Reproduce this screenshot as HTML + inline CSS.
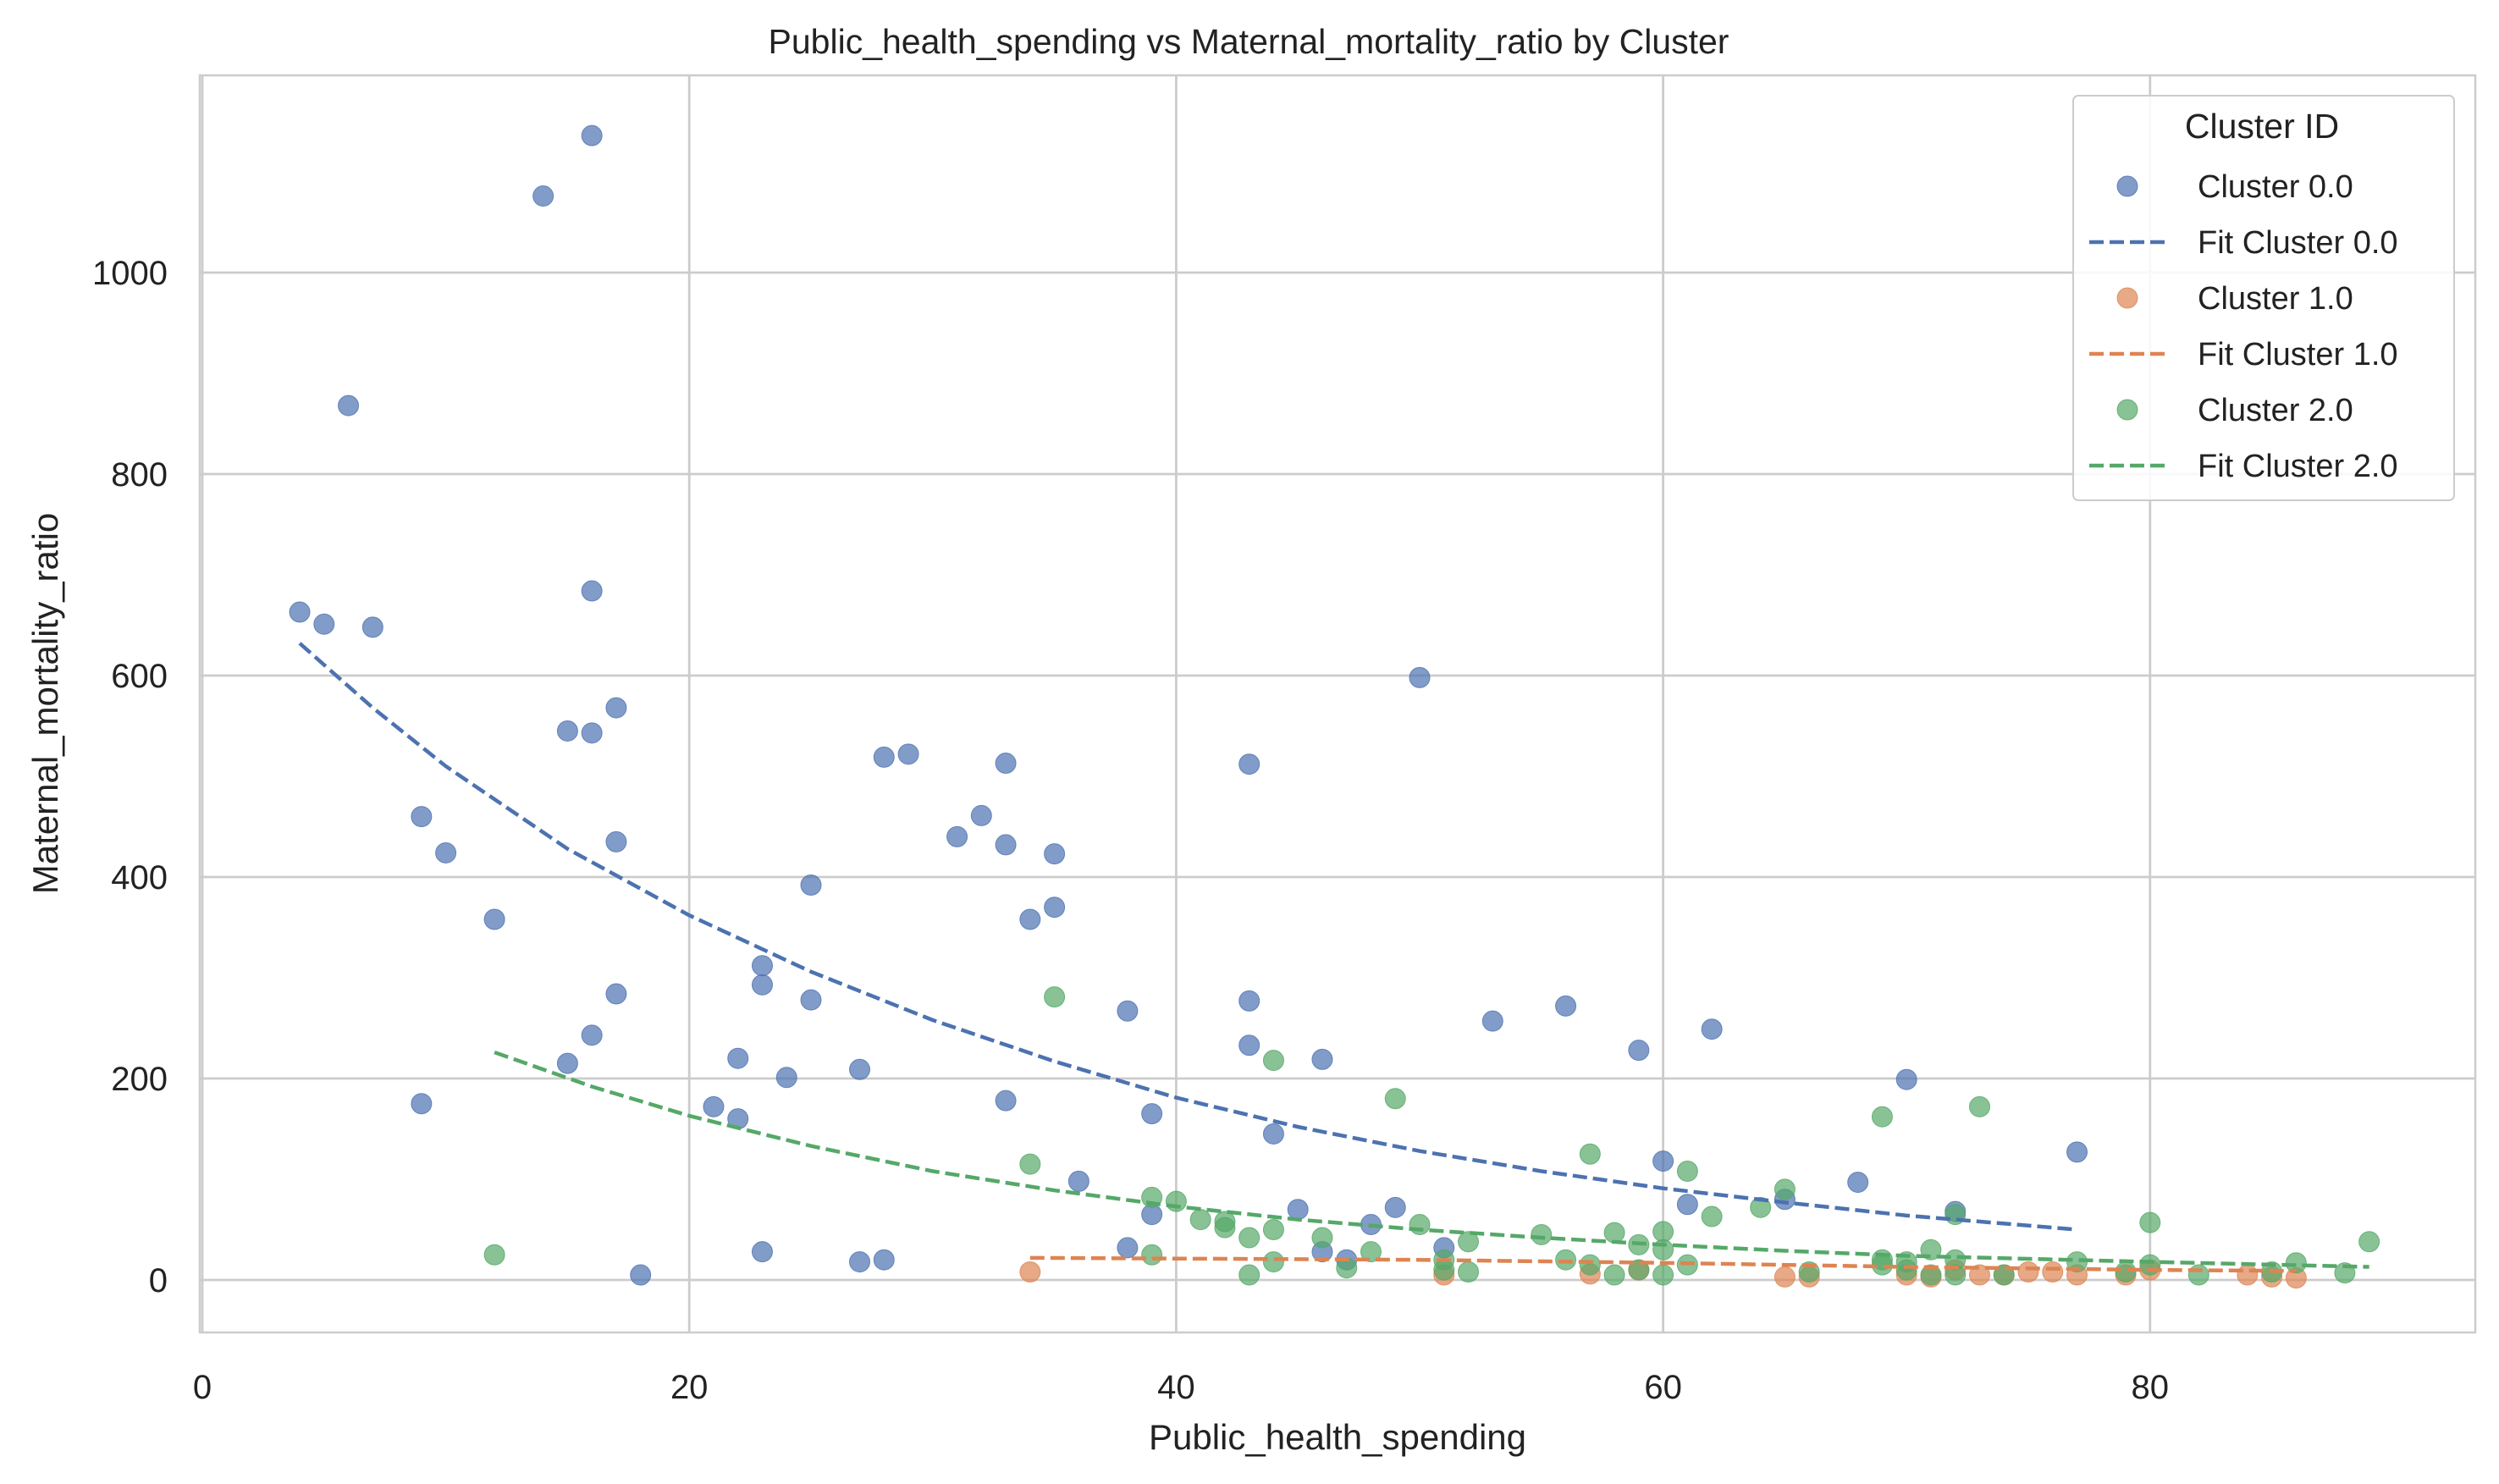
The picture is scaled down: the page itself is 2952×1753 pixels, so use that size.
<!DOCTYPE html>
<html><head><meta charset="utf-8"><style>
html,body{margin:0;padding:0;background:#fff;}
svg{display:block;font-family:"Liberation Sans","DejaVu Sans",sans-serif;}
</style></head><body>
<svg id="chart" width="2952" height="1753" viewBox="0 0 2952 1753">
<rect x="0" y="0" width="2952" height="1753" fill="#fff"/>
<g id="grid"></g>
<g id="marks"></g>
<rect x="236" y="89" width="2688" height="1485" fill="none" stroke="#cccccc" stroke-width="2.5"/>
<g id="ticks"></g>
<text x="1475" y="63" font-size="41" text-anchor="middle" fill="#222">Public_health_spending vs Maternal_mortality_ratio by Cluster</text>
<text x="1580" y="1712" font-size="42" text-anchor="middle" fill="#222">Public_health_spending</text>
<text x="68" y="831" font-size="42" text-anchor="middle" fill="#222" transform="rotate(-90 68 831)">Maternal_mortality_ratio</text>
<g id="legend">
<rect x="2449" y="113" width="450" height="478" rx="6" fill="#fff" fill-opacity="0.85" stroke="#cccccc" stroke-width="2"/>
<text x="2672" y="163" font-size="41" text-anchor="middle" fill="#222">Cluster ID</text>
</g>
</svg>
<script>
const xTicks=[0,20,40,60,80];
const yTicks=[0,200,400,600,800,1000];
const c0x=[4,5,6,7,9,9,10,12,14,15,15,16,16,16,16,17,17,17,18,21,22,22,23,23,23,24,25,25,27,27,28,28,29,31,32,33,33,33,34,35,35,36,38,38,39,39,43,43,43,44,45,46,46,47,48,49,50,51,53,56,59,60,61,62,65,68,70,72,77];
const c0y=[663,651,868,648,460,175,424,358,1076,545,215,1136,684,543,243,568,435,284,5,172,220,160,312,293,28,201,392,278,209,18,519,20,522,440,461,513,432,178,358,423,370,98,267,32,165,65,512,277,233,145,70,219,28,20,55,72,598,32,257,272,228,118,75,249,80,97,199,68,127];
const c1x=[34,51,57,59,65,66,70,71,72,73,74,75,76,77,79,80,84,85,86];
const c1y=[8,5,6,10,3,3,5,3,10,5,5,8,8,5,5,10,5,3,2];
const c2x=[12,35,34,39,39,40,41,42,42,43,43,44,44,44,46,47,48,49,50,51,51,52,52,55,56,57,57,58,58,59,59,60,60,60,61,61,62,64,65,66,69,69,69,70,70,71,71,72,72,72,73,74,77,79,80,80,82,85,86,88,89];
const c2y=[25,281,115,82,25,78,60,58,52,42,5,218,50,18,42,12,28,180,55,20,10,38,8,45,20,125,15,47,5,35,10,48,30,5,108,15,63,72,90,8,162,20,15,10,18,30,5,65,20,5,172,5,18,8,57,15,5,8,17,7,38];
const fit0x=[4,7,10,15,20,25,30,35,40,45,50,55,60,65,70,77];
const fit0y=[632,568,510,428,362,306,258,217,181,152,128,108,91,77,64,50];
const fit1x=[34,50,60,70,80,86];
const fit1y=[22,20,17,13,10,9];
const fit2x=[12,16,20,25,30,35,40,45,50,55,60,65,70,75,80,89];
const fit2y=[226,192,163,133,108,89,73,60,50,42,35,29,24,21,18,13];

const NS="http://www.w3.org/2000/svg";
const X=v=>239+v*28.76;
const Y=v=>1512-v*1.19;
function mk(tag,attrs,parent){const e=document.createElementNS(NS,tag);for(const k in attrs)e.setAttribute(k,attrs[k]);parent.appendChild(e);return e;}
const grid=document.getElementById('grid'),ticks=document.getElementById('ticks'),marks=document.getElementById('marks'),legend=document.getElementById('legend');
xTicks.forEach(t=>{
 const l=mk('line',{x1:X(t),x2:X(t),y1:89,y2:1574,stroke:'#cccccc','stroke-width':2.8},grid);
 
 
 const tx=mk('text',{x:X(t),y:1652,'font-size':40,'text-anchor':'middle',fill:'#222'},ticks);
 tx.textContent=t;
 
 
});
yTicks.forEach(t=>{
 const l=mk('line',{x1:236,x2:2924,y1:Y(t),y2:Y(t),stroke:'#cccccc','stroke-width':2.8},grid);
 
 
 const tx=mk('text',{x:198,y:Y(t)+14,'font-size':40,'text-anchor':'end',fill:'#222'},ticks);
 tx.textContent=t;
 
 
});
const series=[
 {xs:c0x,ys:c0y,fx:fit0x,fy:fit0y,c:'#4c72b0',name:'0.0'},
 {xs:c1x,ys:c1y,fx:fit1x,fy:fit1y,c:'#dd8452',name:'1.0'},
 {xs:c2x,ys:c2y,fx:fit2x,fy:fit2y,c:'#55a868',name:'2.0'}];
series.forEach((s,i)=>{
 s.xs.forEach((x,j)=>{
  const p=mk('circle',{cx:X(x),cy:Y(s.ys[j]),r:12,fill:s.c,'fill-opacity':0.7,stroke:s.c,'stroke-opacity':0.8,'stroke-width':1},marks);
  
  
 });
});
series.forEach((s,i)=>{
 const d=s.fx.map((x,j)=>(j?'L':'M')+X(x)+' '+Y(s.fy[j])).join(' ');
 const p=mk('path',{d:d,fill:'none',stroke:s.c,'stroke-width':4.5,'stroke-dasharray':'17 7'},marks);
 
 
 const y1=220+i*132, y2=286+i*132;
 const m=mk('circle',{cx:2513,cy:y1,r:12,fill:s.c,'fill-opacity':0.7,stroke:s.c,'stroke-opacity':0.8},legend);
 
 
 const t1=mk('text',{x:2596,y:y1+13,'font-size':38,fill:'#222'},legend);
 t1.textContent='Cluster '+s.name;
 
 
 const ln=mk('line',{x1:2468,x2:2560,y1:y2,y2:y2,stroke:s.c,'stroke-width':4.5,'stroke-dasharray':'17 7'},legend);
 
 
 const t2=mk('text',{x:2596,y:y2+13,'font-size':38,fill:'#222'},legend);
 t2.textContent='Fit Cluster '+s.name;
 
 
});
</script>
</body></html>
